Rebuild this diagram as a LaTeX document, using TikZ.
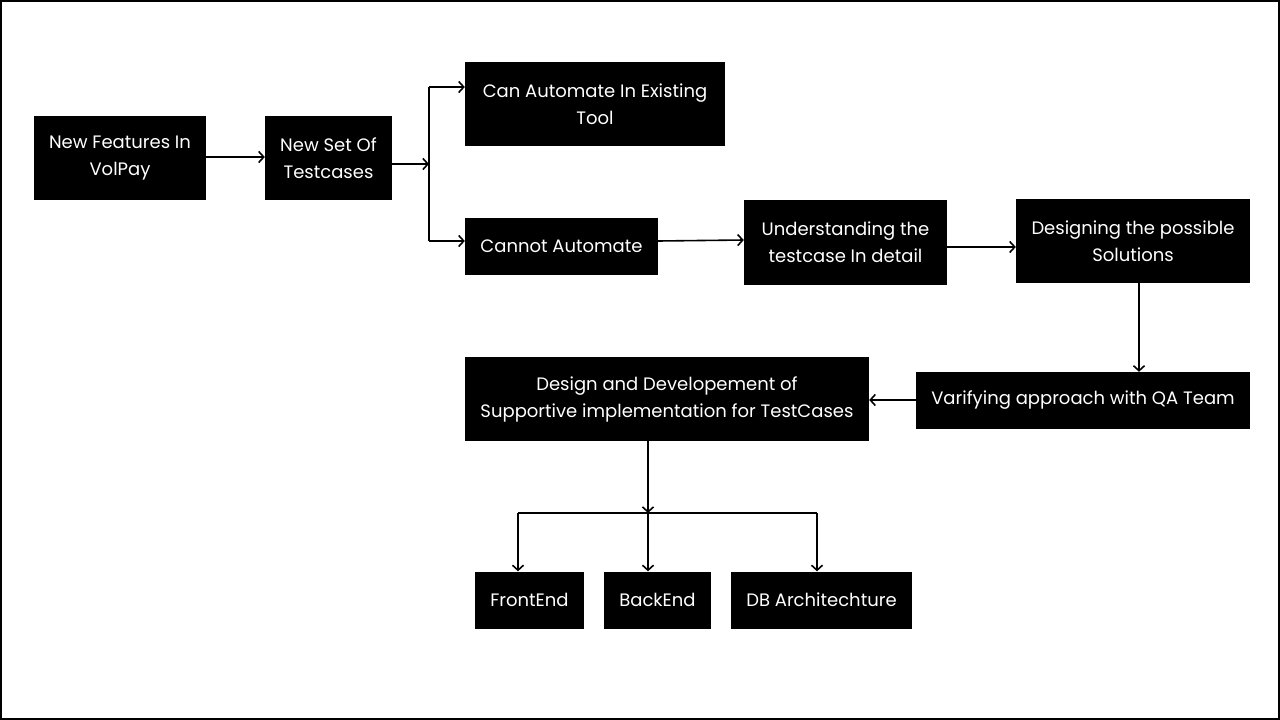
\documentclass[tikz,border=0pt]{standalone}
\usepackage{fontspec}
\setmainfont{Poppins}
\usetikzlibrary{arrows.meta}
\begin{document}
\begin{tikzpicture}[x=1pt,y=-1pt,
  box/.style={fill=black,text=white,align=center,inner sep=0pt,font=\fontsize{18}{27}\selectfont},
  arr/.style={-{Straight Barb[length=5pt,width=11pt]},line width=1.6pt},
  ln/.style={line width=1.6pt}]
\useasboundingbox (0,0) rectangle (1280,720);
\draw[line width=2pt] (1,1) rectangle (1279,719);
% nodes
\node[box,minimum width=172pt,minimum height=84pt] (A) at (120,158) {New Features In\\VolPay};
\node[box,minimum width=127pt,minimum height=84pt] (B) at (328.5,158) {New Set Of\\Testcases};
\node[box,minimum width=260pt,minimum height=84pt] (C) at (595,104) {Can Automate In Existing\\Tool};
\node[box,minimum width=193pt,minimum height=57pt] (D) at (561.5,246) {Cannot Automate};
\node[box,minimum width=203pt,minimum height=85pt] (E) at (845.5,242) {Understanding the\\testcase In detail};
\node[box,minimum width=234pt,minimum height=84pt] (F) at (1133,241) {Designing the possible\\Solutions};
\node[box,minimum width=334pt,minimum height=57pt] (G) at (1083,400.5) {Varifying approach with QA Team};
\node[box,minimum width=404pt,minimum height=84pt] (H) at (667,399) {Design and Developement of\\Supportive implementation for TestCases};
\node[box,minimum width=109pt,minimum height=57pt] (I) at (529.5,600) {FrontEnd};
\node[box,minimum width=107pt,minimum height=57pt] (J) at (657.5,600) {BackEnd};
\node[box,minimum width=181pt,minimum height=57pt] (K) at (821.5,600) {DB Architechture};
% junctions
\coordinate (jb) at (429,164);
\coordinate (jc) at (429,87);
\coordinate (jd) at (429,241);
\coordinate (jh) at (648,513);
\coordinate (jl) at (518,513);
\coordinate (jr) at (817,513);
% connectors
\draw[arr] (A.east |- 0,157) -- (B.west |- 0,157);
\draw[arr] (B.east |- jb) -- (jb);
\draw[ln] (jc) -- (jd);
\draw[arr] (jc) -- (C.west |- jc);
\draw[arr] (jd) -- (D.west |- jd);
\draw[arr] (D.east |- 0,241) -- (E.west |- 0,240);
\draw[arr] (E.east |- 0,247) -- (F.west |- 0,247);
\draw[arr] (F.south -| 1139,0) -- (G.north -| 1139,0);
\draw[arr] (G.west |- 0,400) -- (H.east |- 0,400);
\draw[arr] (H.south -| jh) -- (jh);
\draw[ln] (jl) -- (jr);
\draw[arr] (jl) -- (I.north -| jl);
\draw[arr] (jh) -- (J.north -| jh);
\draw[arr] (jr) -- (K.north -| jr);
\end{tikzpicture}
\end{document}
